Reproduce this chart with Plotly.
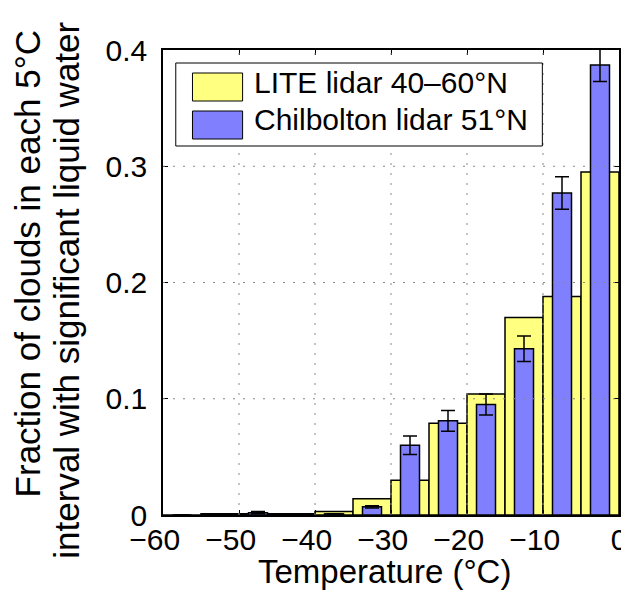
import plotly.graph_objects as go

# Bin centres (5 °C bins from -60 to 0)
bin_centres = [-57.5, -52.5, -47.5, -42.5, -37.5, -32.5, -27.5, -22.5, -17.5, -12.5, -7.5, -2.5]
lite_vals = [0.0, 0.001, 0.001, 0.001, 0.003, 0.014, 0.030, 0.079, 0.104, 0.170, 0.188, 0.295]
chil_vals = [0.0, 0.0, 0.002, 0.001, 0.001, 0.007, 0.060, 0.081, 0.095, 0.143, 0.277, 0.387]
chil_err = [0.0, 0.0, 0.001, 0.0, 0.0, 0.001, 0.008, 0.009, 0.009, 0.011, 0.014, 0.014]
x_ticks = [-60, -50, -40, -30, -20, -10, 0]
x_ticktext = ["\u221260\u2007", "\u221250\u2007", "\u221240\u2007", "\u221230\u2007",
              "\u221220\u2007", "\u221210\u2007", "0"]
y_ticks = [0, 0.1, 0.2, 0.3, 0.4]
y_ticktext = ["0", "0.1", "0.2", "0.3", "0.4"]
x_grid = [-50, -40, -30, -20, -10]
y_grid = [0.1, 0.2, 0.3]

series_names = ["LITE lidar 40\u201360\u00b0N", "Chilbolton lidar 51\u00b0N"]
x_title = "Temperature (\u00b0C)"
y_title_lines = ["Fraction of clouds in each 5\u00b0C", "interval with significant liquid water"]
yellow = "#FFFF80"
blue = "#8080FF"
FONT = "Liberation Sans, Arial, Helvetica, sans-serif"

fig = go.Figure()
fig.add_trace(go.Bar(x=bin_centres, y=lite_vals, width=5, name=series_names[0],
                     marker=dict(color=yellow, line=dict(color="black", width=1.5))))
fig.add_trace(go.Bar(x=bin_centres, y=chil_vals, width=2.5, name=series_names[1],
                     marker=dict(color=blue, line=dict(color="black", width=1.5)),
                     error_y=dict(type="data", array=chil_err, color="black",
                                  thickness=1.5, width=7)))

shapes = []
for gx in x_grid:
    shapes.append(dict(type="line", xref="x", yref="paper", x0=gx, x1=gx, y0=0, y1=1,
                       line=dict(color="#888888", width=1, dash="2px,8px"), layer="above"))
for gy in y_grid:
    shapes.append(dict(type="line", xref="paper", yref="y", x0=0, x1=1, y0=gy, y1=gy,
                       line=dict(color="#888888", width=1, dash="2px,8px"), layer="above"))

# pixel -> paper helpers for the manual legend and titles
W, H, L, R, T, B = 629, 591, 155, 10, 42, 84
pw, ph = W - L - R, H - T - B
def px(x):
    return (x - L) / pw
def py(y):
    return (H - B - y) / ph

shapes.append(dict(type="rect", xref="paper", yref="paper", x0=px(168), x1=px(541),
                   y0=py(138), y1=py(55), line=dict(color="black", width=1),
                   fillcolor="white", layer="above"))
shapes.append(dict(type="rect", xref="paper", yref="paper", x0=px(185), x1=px(236),
                   y0=py(93), y1=py(65), line=dict(color="black", width=1),
                   fillcolor=yellow, layer="above"))
shapes.append(dict(type="rect", xref="paper", yref="paper", x0=px(185), x1=px(236),
                   y0=py(131), y1=py(103), line=dict(color="black", width=1),
                   fillcolor=blue, layer="above"))

annotations = [
    dict(text=series_names[0], xref="paper", yref="paper", x=px(246), y=py(75),
         xanchor="left", yanchor="middle", showarrow=False, font=dict(size=30, color="black")),
    dict(text=series_names[1], xref="paper", yref="paper", x=px(246), y=py(112),
         xanchor="left", yanchor="middle", showarrow=False, font=dict(size=30, color="black")),
    dict(text=y_title_lines[0], xref="paper", yref="paper", x=px(17), y=py(256),
         textangle=-90, xanchor="center", yanchor="middle", showarrow=False,
         font=dict(size=35, color="black")),
    dict(text=y_title_lines[1], xref="paper", yref="paper", x=px(56), y=py(282),
         textangle=-90, xanchor="center", yanchor="middle", showarrow=False,
         font=dict(size=35, color="black")),
    dict(text=x_title, xref="paper", yref="paper", x=px(380), y=py(563),
         xanchor="center", yanchor="middle", showarrow=False,
         font=dict(size=33, color="black")),
]

fig.update_layout(
    width=W, height=H,
    margin=dict(l=L, r=R, t=T, b=B),
    paper_bgcolor="white", plot_bgcolor="white",
    barmode="overlay", showlegend=False,
    font=dict(family=FONT, size=30, color="black"),
    shapes=shapes, annotations=annotations,
    xaxis=dict(range=[-60, 0], tickvals=x_ticks, ticktext=x_ticktext,
               showgrid=False, zeroline=False,
               showline=True, linecolor="black", linewidth=1.5, mirror="ticks",
               ticks="inside", ticklen=5, tickcolor="black",
               tickfont=dict(size=30), ticklabelstandoff=-3),
    yaxis=dict(range=[0, 0.4], tickvals=y_ticks, ticktext=y_ticktext,
               showgrid=False, zeroline=False,
               showline=True, linecolor="black", linewidth=1.5, mirror="ticks",
               ticks="inside", ticklen=5, tickcolor="black",
               tickfont=dict(size=30), ticklabelstandoff=8),
)

fig.write_html("out.html")
